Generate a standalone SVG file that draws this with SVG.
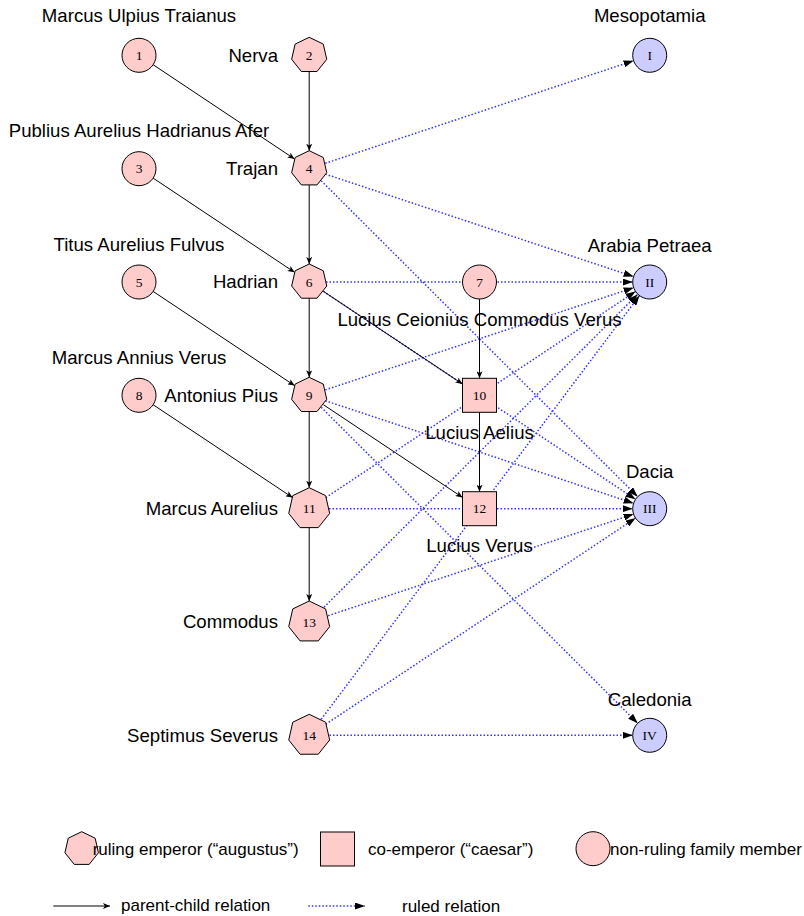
<svg xmlns="http://www.w3.org/2000/svg" xmlns:xlink="http://www.w3.org/1999/xlink" width="804" height="916" viewBox="0 0 804 916">
  <style>
    .person { fill: #ffcccc; stroke: #000; stroke-width: 1; }
    .province { fill: #ccccff; stroke: #000; stroke-width: 1; }
    .num { font-family: "Liberation Serif", "Times New Roman", serif; font-size: 13.5px; text-anchor: middle; fill: #000; }
    .lbl { font-family: "Liberation Sans", Arial, Helvetica, sans-serif; font-size: 18.6px; fill: #000; }
    .mid { text-anchor: middle; }
    .end { text-anchor: end; }
    .leg { font-family: "Liberation Sans", Arial, Helvetica, sans-serif; font-size: 17px; fill: #000; }
    .parent { stroke: #000; stroke-width: 1; fill: none; marker-end: url(#arrowParent); }
    .ruled { stroke: #3333ff; stroke-width: 1.5; stroke-dasharray: 1.5 2; fill: none; marker-end: url(#arrowRuled); }
  </style>
  <defs>
    <marker id="arrowParent" markerUnits="userSpaceOnUse" viewBox="0 0 7 6" refX="7" refY="3" markerWidth="7" markerHeight="6" orient="auto">
      <path d="M0,0 L7,3 L0,6 L1.8,3 z" fill="#000"/>
    </marker>
    <marker id="arrowRuled" markerUnits="userSpaceOnUse" viewBox="0 0 10 7" refX="10" refY="3.5" markerWidth="10" markerHeight="7" orient="auto">
      <path d="M0,0 L10,3.5 L0,7 z" fill="#000"/>
    </marker>
    <polygon id="hept18" class="person" points="0,-18 14.07,-11.22 17.55,4.0 7.81,16.22 -7.81,16.22 -17.55,4.0 -14.07,-11.22"/>
    <polygon id="hept21" class="person" points="0,-21 16.42,-13.09 20.47,4.67 9.11,18.92 -9.11,18.92 -20.47,4.67 -16.42,-13.09"/>
  </defs>

  <rect width="804" height="916" fill="#fff"/>

  <!-- connectors -->
  <g id="connectors">
    <!-- ruled relations (emperor to province) -->
    <line class="ruled" x1="325.3" y1="163.3" x2="633.6" y2="60.7"/>
    <line class="ruled" x1="325.3" y1="174.1" x2="633.6" y2="276.6"/>
    <line class="ruled" x1="321.2" y1="180.7" x2="637.7" y2="496.7"/>
    <line class="ruled" x1="326" y1="282" x2="632.7" y2="282"/>
    <line class="ruled" x1="323.4" y1="291.4" x2="635.5" y2="499.3"/>
    <line class="ruled" x1="325.3" y1="389.9" x2="633.6" y2="287.7"/>
    <line class="ruled" x1="325.3" y1="400.7" x2="633.6" y2="503.3"/>
    <line class="ruled" x1="321.2" y1="407.3" x2="637.7" y2="723.3"/>
    <line class="ruled" x1="325.8" y1="497.6" x2="635.6" y2="291.4"/>
    <line class="ruled" x1="329" y1="508.7" x2="632.7" y2="508.7"/>
    <line class="ruled" x1="324" y1="607.2" x2="637.7" y2="294.3"/>
    <line class="ruled" x1="328.2" y1="615.7" x2="633.6" y2="514.1"/>
    <line class="ruled" x1="321.2" y1="719.3" x2="639.5" y2="295.6"/>
    <line class="ruled" x1="325.8" y1="724.2" x2="635.6" y2="518.1"/>
    <line class="ruled" x1="329.5" y1="735.3" x2="632.7" y2="735.3"/>
    <!-- parent-child relations -->
    <line class="parent" x1="153.1" y1="64.7" x2="294.6" y2="159.0"/>
    <line class="parent" x1="309.2" y1="71.5" x2="309.2" y2="150.7"/>
    <line class="parent" x1="153.1" y1="178.1" x2="294.6" y2="272.3"/>
    <line class="parent" x1="309.2" y1="184.9" x2="309.2" y2="264"/>
    <line class="parent" x1="153.1" y1="291.4" x2="294.6" y2="385.6"/>
    <line class="parent" x1="309.2" y1="298.2" x2="309.2" y2="377.3"/>
    <line class="parent" x1="323.4" y1="291.4" x2="462.5" y2="384"/>
    <line class="parent" x1="479.5" y1="299" x2="479.5" y2="378.3"/>
    <line class="parent" x1="153.1" y1="404.7" x2="292.6" y2="497.6"/>
    <line class="parent" x1="309.2" y1="411.5" x2="309.2" y2="487.7"/>
    <line class="parent" x1="323.4" y1="404.7" x2="462.5" y2="497.4"/>
    <line class="parent" x1="479.5" y1="412.3" x2="479.5" y2="491.7"/>
    <line class="parent" x1="309.2" y1="527.6" x2="309.2" y2="601"/>
  </g>

  <!-- family members and emperors -->
  <g id="n1"><circle class="person" cx="139" cy="55.3" r="17"/><text class="num" x="139" y="60">1</text><text class="lbl mid" x="139" y="21.5">Marcus Ulpius Traianus</text></g>
  <g id="n2"><use xlink:href="#hept18" x="309.2" y="55.3"/><text class="num" x="309.2" y="60">2</text><text class="lbl end" x="278" y="61.8">Nerva</text></g>
  <g id="n3"><circle class="person" cx="139" cy="168.7" r="17"/><text class="num" x="139" y="173.4">3</text><text class="lbl mid" x="139" y="137">Publius Aurelius Hadrianus Afer</text></g>
  <g id="n4"><use xlink:href="#hept18" x="309.2" y="168.7"/><text class="num" x="309.2" y="173.4">4</text><text class="lbl end" x="278" y="175.1">Trajan</text></g>
  <g id="n5"><circle class="person" cx="139" cy="282" r="17"/><text class="num" x="139" y="286.7">5</text><text class="lbl mid" x="139" y="250.5">Titus Aurelius Fulvus</text></g>
  <g id="n6"><use xlink:href="#hept18" x="309.2" y="282"/><text class="num" x="309.2" y="286.7">6</text><text class="lbl end" x="278" y="288.4">Hadrian</text></g>
  <g id="n7"><circle class="person" cx="479.5" cy="282" r="17"/><text class="num" x="479.5" y="286.7">7</text><text class="lbl mid" x="479.5" y="325.5">Lucius Ceionius Commodus Verus</text></g>
  <g id="n8"><circle class="person" cx="139" cy="395.3" r="17"/><text class="num" x="139" y="400">8</text><text class="lbl mid" x="139" y="364">Marcus Annius Verus</text></g>
  <g id="n9"><use xlink:href="#hept18" x="309.2" y="395.3"/><text class="num" x="309.2" y="400">9</text><text class="lbl end" x="278" y="401.7">Antonius Pius</text></g>
  <g id="n10"><rect class="person" x="462.5" y="378.3" width="34" height="34"/><text class="num" x="479.5" y="400">10</text><text class="lbl mid" x="479.5" y="438.8">Lucius Aelius</text></g>
  <g id="n11"><use xlink:href="#hept21" x="309.2" y="508.7"/><text class="num" x="309.2" y="513.4">11</text><text class="lbl end" x="278" y="515.1">Marcus Aurelius</text></g>
  <g id="n12"><rect class="person" x="462.5" y="491.7" width="34" height="34"/><text class="num" x="479.5" y="513.4">12</text><text class="lbl mid" x="479.5" y="552.2">Lucius Verus</text></g>
  <g id="n13"><use xlink:href="#hept21" x="309.2" y="622"/><text class="num" x="309.2" y="626.7">13</text><text class="lbl end" x="278" y="628.4">Commodus</text></g>
  <g id="n14"><use xlink:href="#hept21" x="309.2" y="735.3"/><text class="num" x="309.2" y="740">14</text><text class="lbl end" x="278" y="741.7">Septimus Severus</text></g>

  <!-- provinces -->
  <g id="pI"><circle class="province" cx="649.7" cy="55.3" r="17"/><text class="num" x="649.7" y="60">I</text><text class="lbl mid" x="649.7" y="21.5">Mesopotamia</text></g>
  <g id="pII"><circle class="province" cx="649.7" cy="282" r="17"/><text class="num" x="649.7" y="286.7">II</text><text class="lbl mid" x="649.7" y="251.5">Arabia Petraea</text></g>
  <g id="pIII"><circle class="province" cx="649.7" cy="508.7" r="17"/><text class="num" x="649.7" y="513.4">III</text><text class="lbl mid" x="649.7" y="478.3">Dacia</text></g>
  <g id="pIV"><circle class="province" cx="649.7" cy="735.3" r="17"/><text class="num" x="649.7" y="740">IV</text><text class="lbl mid" x="649.7" y="705.7">Caledonia</text></g>

  <!-- legend -->
  <g id="legend">
    <polygon class="person" transform="translate(81.7,848.9)" points="0,-17.2 13.45,-10.72 16.77,3.83 7.46,15.5 -7.46,15.5 -16.77,3.83 -13.45,-10.72"/>
    <text class="leg" x="92.7" y="854.5">ruling emperor (“augustus”)</text>
    <rect class="person" x="320.5" y="832" width="34" height="34"/>
    <text class="leg" x="368" y="854.5">co-emperor (“caesar”)</text>
    <circle class="person" cx="593" cy="848.7" r="17"/>
    <text class="leg" x="610" y="854.5">non-ruling family member</text>
    <line class="parent" x1="53.3" y1="906" x2="110" y2="906"/>
    <text class="leg" x="121" y="910.5">parent-child relation</text>
    <line class="ruled" x1="308.3" y1="906" x2="365" y2="906"/>
    <text class="leg" x="402" y="912">ruled relation</text>
  </g>
</svg>
